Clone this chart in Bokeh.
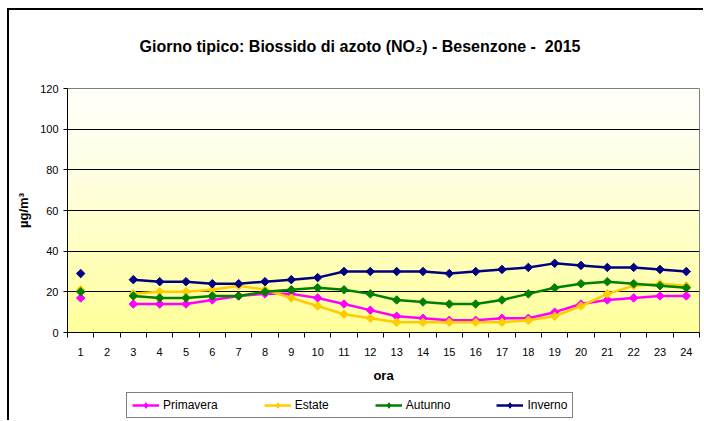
import math
from bokeh.plotting import figure
from bokeh.layouts import column
from bokeh.models import Range1d, FixedTicker, Legend, LegendItem
from bokeh.embed import file_html
from bokeh.resources import INLINE

nan = float("nan")

hours = list(range(1, 25))
primavera = [17, nan, 14, 14, 14, 16, 18, 19, 19, 17, 14, 11, 8, 7, 6, 6, 7, 7, 10, 14, 16, 17, 18, 18]
estate    = [21, nan, 19, 20, 20, 21, 23, 21, 17, 13, 9, 7, 5, 5, 5, 5, 5, 6, 8, 13, 19, 23, 24, 23]
autunno   = [20, nan, 18, 17, 17, 18, 18, 20, 21, 22, 21, 19, 16, 15, 14, 14, 16, 19, 22, 24, 25, 24, 23, 22]
inverno   = [29, nan, 26, 25, 25, 24, 24, 25, 26, 27, 30, 30, 30, 30, 29, 30, 31, 32, 34, 33, 32, 32, 31, 30]

series_names = ["Primavera", "Estate", "Autunno", "Inverno"]
series_colors = ["#FF00FF", "#FFCC00", "#008000", "#000080"]
y_ticks = [0, 20, 40, 60, 80, 100, 120]

title_text = "Giorno tipico: Biossido di azoto (NO\u2082) - Besenzone -\u00a0 2015"

FONT = "Liberation Sans"

fig = figure(
    width=703, height=385,
    output_backend="svg", toolbar_location=None,
    x_range=Range1d(0.5, 24.5), y_range=Range1d(0, 120),
    min_border_left=67, min_border_right=4, min_border_top=88, min_border_bottom=52,
    title=title_text,
)
# plot-area gradient painted behind the (transparent) canvas
fig.styles = {
    "background-image": "linear-gradient(to bottom, #FFFFFB 0%, #FFFFE2 35%, #FFFF99 100%)",
    "background-size": "632px 245px",
    "background-position": "67px 88px",
    "background-repeat": "no-repeat",
}
fig.background_fill_alpha = 0
fig.border_fill_alpha = 0
fig.outline_line_color = "#808080"
fig.outline_line_width = 1

fig.title.align = "left"
fig.title.offset = 72
fig.title.standoff = 68
fig.title.text_font = FONT
fig.title.text_font_size = "16px"
fig.title.text_font_style = "bold"
fig.title.text_color = "#000000"

fig.xgrid.grid_line_color = None
fig.ygrid.grid_line_color = "#000000"
fig.ygrid.grid_line_width = 1

# x axis: labels at centres, tick marks at the category boundaries
minor = [h - 0.5 for h in hours] + [hours[-1] + 0.5]
fig.xaxis.ticker = FixedTicker(ticks=hours, minor_ticks=minor)
fig.xaxis.major_tick_line_color = None
fig.xaxis.major_tick_out = 0
fig.xaxis.major_tick_in = 0
fig.xaxis.minor_tick_line_color = "#000000"
fig.xaxis.minor_tick_out = 5
fig.xaxis.minor_tick_in = 0
fig.xaxis.major_label_standoff = 10
fig.xaxis.axis_label = "ora"
fig.xaxis.axis_label_standoff = 9

fig.yaxis.ticker = FixedTicker(ticks=y_ticks)
fig.yaxis.major_tick_out = 4
fig.yaxis.major_tick_in = 0
fig.yaxis.minor_tick_line_color = None
fig.yaxis.major_label_standoff = 5
fig.yaxis.axis_label = "\u00b5g/m\u00b3"
fig.yaxis.axis_label_standoff = 6

for ax in (fig.xaxis, fig.yaxis):
    ax.axis_line_color = "#000000"
    ax.major_label_text_font = FONT
    ax.major_label_text_font_size = "11px"
    ax.major_label_text_color = "#000000"
    ax.axis_label_text_font = FONT
    ax.axis_label_text_font_size = "13px"
    ax.axis_label_text_font_style = "bold"
    ax.axis_label_text_color = "#000000"

series = [primavera, estate, autunno, inverno]
for vals, col in zip(series, series_colors):
    fig.line(hours, vals, line_color=col, line_width=2.5)
    fig.scatter(hours, vals, marker="square", size=6, angle=math.pi / 4,
                fill_color=col, line_color=col)

# legend strip under the chart (its own small canvas so the legend is not clipped);
# its renderers hold the same series but lie outside its (empty) view range
leg = figure(
    width=703, height=35, output_backend="svg", toolbar_location=None,
    x_range=Range1d(-3, -2), y_range=Range1d(-3, -2), min_border=0,
)
leg.axis.visible = False
leg.grid.visible = False
leg.outline_line_color = None
leg.background_fill_alpha = 0
leg.border_fill_alpha = 0

items = []
for name, vals, col in zip(series_names, series, series_colors):
    ln = leg.line(hours, vals, line_color=col, line_width=2.5)
    sc = leg.scatter(hours, vals, marker="diamond", size=8,
                     fill_color=col, line_color=col)
    items.append(LegendItem(label=name, renderers=[ln, sc], index=0))

legend = Legend(
    items=items, orientation="horizontal", location=(59, 2),
    label_text_font=FONT, label_text_font_size="12px", label_text_color="#000000",
    glyph_width=27, glyph_height=14, label_height=14, label_standoff=4,
    spacing=46, padding=5, margin=0,
    border_line_color="#000000", border_line_width=1,
    background_fill_color="#FFFFFF", background_fill_alpha=1,
)
leg.add_layout(legend, "center")

p = column(fig, leg, spacing=0)
# outer chart frame: left and top edges
p.styles = {
    "background-image": "linear-gradient(#000000, #000000), linear-gradient(#000000, #000000)",
    "background-size": "2px 412px, 697px 2px",
    "background-position": "7px 8px, 7px 8px",
    "background-repeat": "no-repeat",
}

open("out.html", "w").write(file_html(p, INLINE))
